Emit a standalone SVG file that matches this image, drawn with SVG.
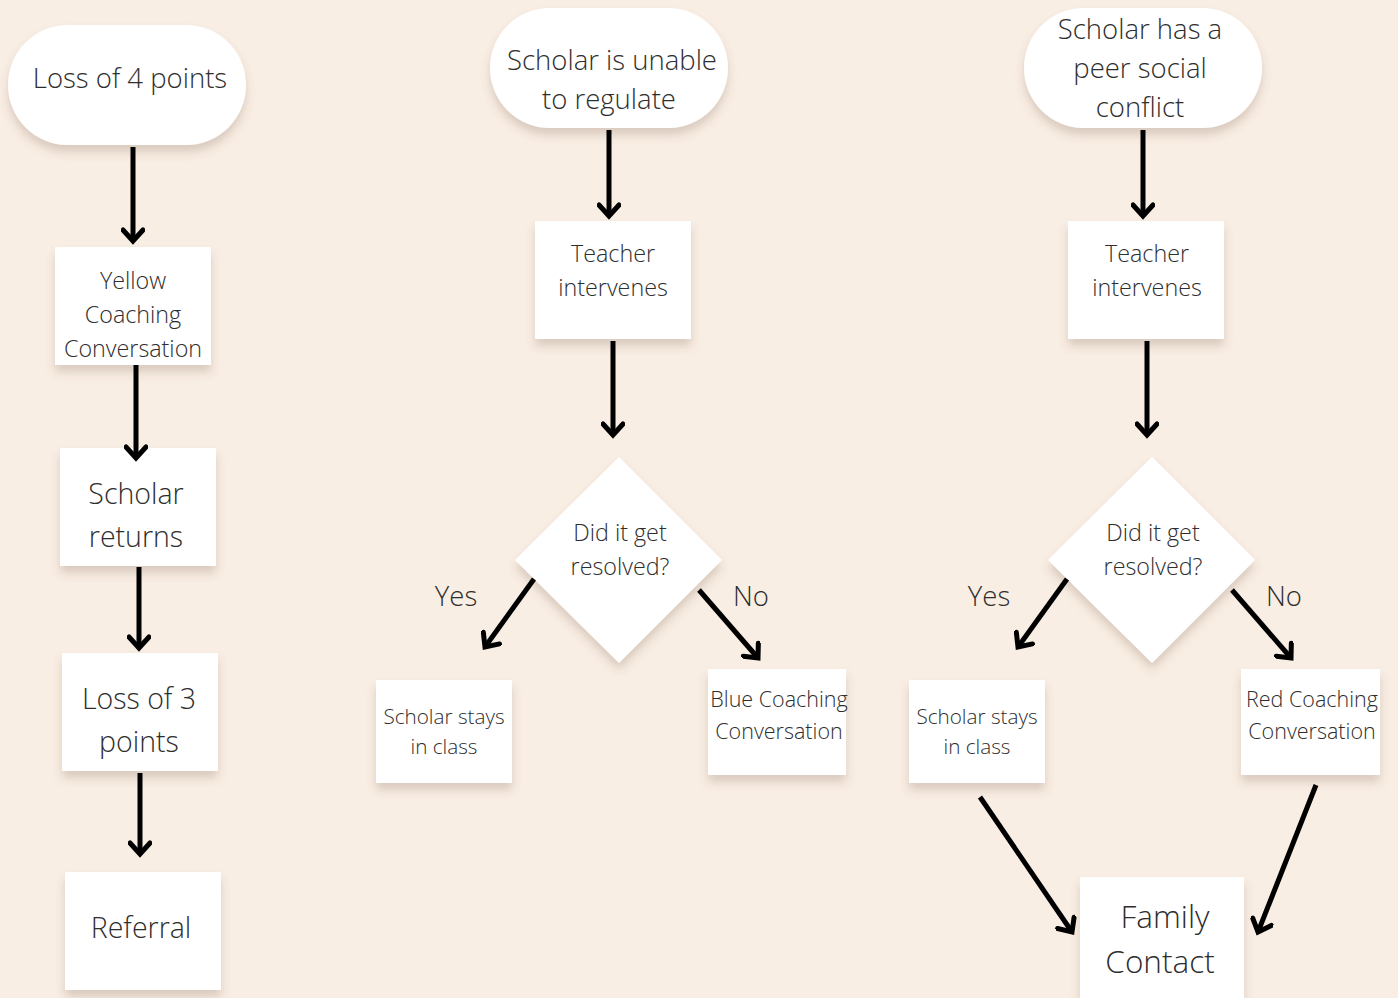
<svg xmlns="http://www.w3.org/2000/svg" width="1398" height="998" viewBox="0 0 1398 998">
<defs>
<filter id="sh" x="-20%" y="-20%" width="140%" height="150%">
<feDropShadow dx="0" dy="7" stdDeviation="5" flood-color="#6b4a30" flood-opacity="0.22"/>
</filter>
<marker id="ah" viewBox="-14 -12 18 24" markerWidth="18" markerHeight="24" refX="0" refY="0" orient="auto" markerUnits="userSpaceOnUse">
<path d="M -11 -10 L 0 0 L -11 10" fill="none" stroke="#000" stroke-width="5" stroke-linecap="round" stroke-linejoin="miter"/>
</marker>
</defs>
<style>
.n{fill:#fff;filter:url(#sh)}
text{font-family:"Open Sans","Noto Sans",sans-serif;font-weight:300;fill:#2e2e2e;text-anchor:middle;dominant-baseline:central}
.c line{stroke:#000;stroke-width:5;marker-end:url(#ah)}
.t27{font-size:27.5px}
.t23{font-size:23.3px}
.t28{font-size:28.5px}
.t19{font-size:20.7px}
.t21{font-size:21.5px}
.t30{font-size:31.5px}
</style>
<rect width="1398" height="998" fill="#f9eee4"/>
<g id="n1"><rect class="n" x="8" y="25" width="238" height="120" rx="60"/><text class="t27" x="130" y="77">Loss of 4 points</text></g>
<g id="n2"><rect class="n" x="55" y="247" width="156" height="118"/><text class="t23" x="133" y="280">Yellow</text><text class="t23" x="133" y="314">Coaching</text><text class="t23" x="133" y="348">Conversation</text></g>
<g id="n3"><rect class="n" x="60" y="448" width="156" height="118"/><text class="t28" x="136" y="493">Scholar</text><text class="t28" x="136" y="536">returns</text></g>
<g id="n4"><rect class="n" x="62" y="653" width="156" height="118"/><text class="t28" x="139" y="698">Loss of 3</text><text class="t28" x="139" y="741">points</text></g>
<g id="n5"><rect class="n" x="65" y="872" width="156" height="118"/><text class="t28" x="141" y="927">Referral</text></g>
<g id="m1"><rect class="n" x="490" y="8" width="238" height="120" rx="60"/><text class="t27" x="612" y="59">Scholar is unable</text><text class="t27" x="609" y="98">to regulate</text></g>
<g id="m2"><rect class="n" x="535" y="221" width="156" height="118"/><text class="t23" x="613" y="253">Teacher</text><text class="t23" x="613" y="287">intervenes</text></g>
<g id="m3"><polygon class="n" points="619,457 722,560 619,663 515,560"/><text class="t23" x="620" y="532">Did it get</text><text class="t23" x="620" y="566">resolved?</text></g>
<g id="m4"><rect class="n" x="376" y="680" width="136" height="103"/><text class="t19" x="444" y="716">Scholar stays</text><text class="t19" x="444" y="746">in class</text></g>
<g id="m5"><rect class="n" x="708" y="669" width="138" height="106"/><text class="t21" x="779" y="698">Blue Coaching</text><text class="t21" x="779" y="730">Conversation</text></g>
<g id="r1"><rect class="n" x="1024" y="8" width="238" height="120" rx="60"/><text class="t27" x="1140" y="28">Scholar has a</text><text class="t27" x="1140" y="67">peer social</text><text class="t27" x="1140" y="106">conflict</text></g>
<g id="r2"><rect class="n" x="1068" y="221" width="156" height="118"/><text class="t23" x="1147" y="253">Teacher</text><text class="t23" x="1147" y="287">intervenes</text></g>
<g id="r3"><polygon class="n" points="1152,457 1255,560 1152,663 1048,560"/><text class="t23" x="1153" y="532">Did it get</text><text class="t23" x="1153" y="566">resolved?</text></g>
<g id="r4"><rect class="n" x="909" y="680" width="136" height="103"/><text class="t19" x="977" y="716">Scholar stays</text><text class="t19" x="977" y="746">in class</text></g>
<g id="r5"><rect class="n" x="1241" y="669" width="139" height="106"/><text class="t21" x="1312" y="698">Red Coaching</text><text class="t21" x="1312" y="730">Conversation</text></g>
<g id="r6"><rect class="n" x="1080" y="877" width="164" height="125"/><text class="t30" x="1165" y="915">Family</text><text class="t30" x="1160" y="960">Contact</text></g>
<g class="c">
<line x1="133" y1="147" x2="133" y2="241"/>
<line x1="136" y1="365" x2="136" y2="458"/>
<line x1="139" y1="567" x2="139" y2="648"/>
<line x1="140" y1="773" x2="140" y2="854"/>
<line x1="609" y1="130" x2="609" y2="216"/>
<line x1="613" y1="341" x2="613" y2="435"/>
<line x1="534" y1="579" x2="485" y2="647"/>
<line x1="699" y1="590" x2="758" y2="658"/>
<line x1="1143" y1="130" x2="1143" y2="216"/>
<line x1="1147" y1="341" x2="1147" y2="435"/>
<line x1="1067" y1="579" x2="1018" y2="647"/>
<line x1="1232" y1="590" x2="1291" y2="658"/>
<line x1="980" y1="797" x2="1072" y2="932"/>
<line x1="1316" y1="785" x2="1258" y2="932"/>
</g>
<g id="labels">
<text class="t27" x="456" y="595">Yes</text>
<text class="t27" x="751" y="595">No</text>
<text class="t27" x="989" y="595">Yes</text>
<text class="t27" x="1284" y="595">No</text>
</g>
</svg>
